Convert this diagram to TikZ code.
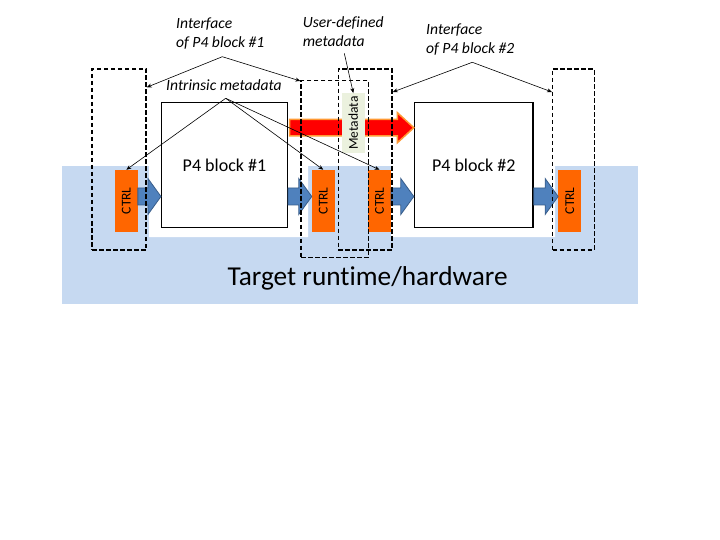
\documentclass[tikz,border=0pt]{standalone}
\usepackage{fontspec}
\setmainfont[Ligatures=NoCommon]{Carlito}
\usetikzlibrary{calc,arrows.meta}

\definecolor{bgblue}{HTML}{C6D9F1}
\definecolor{arrblue}{HTML}{4F81BD}
\definecolor{arrline}{HTML}{385D8A}
\definecolor{ctrlorange}{HTML}{FF6600}
\definecolor{mdgreen}{HTML}{EBF1DE}
\definecolor{glow}{HTML}{FF9933}

\newcommand\blockarrow[7][]{%
  \filldraw[#1] let \p1=(#2), \p2=(#3), \p3=(0,#4) in
    (\x1,{\y3+#5}) -- ({\x2-#7},{\y3+#5}) -- ({\x2-#7},{\y3+#6}) -- (\x2,\y3)
    -- ({\x2-#7},{\y3-#6}) -- ({\x2-#7},{\y3-#5}) -- (\x1,{\y3-#5}) -- cycle;}

\begin{document}
\begin{tikzpicture}[x=1pt,y=-1pt,
  blk/.style={draw,line width=1.5pt,fill=white,inner sep=0pt,minimum width=#1,
    minimum height=124.6pt,font=\fontsize{18}{20}\selectfont},
  ctrl/.style={fill=ctrlorange,inner sep=0pt,minimum width=22.7pt,minimum height=61.7pt,
    font=\fontsize{13.5}{15}\selectfont},
  iface/.style={draw,line width=1.4pt,dash pattern=on 4.5pt off 2.5pt,inner sep=0pt},
  note/.style={font=\fontsize{15.6}{19}\selectfont\itshape,align=left,inner sep=0pt},
  pointer/.style={line width=0.6pt,-{Stealth[length=5pt,width=4pt]}},
  bluearrow/.style={fill=arrblue,draw=arrline,line width=0.8pt},
  redarrow/.style={fill=red,draw=glow,line width=1.5pt}]
\useasboundingbox (0,0) rectangle (720,540);
\fill[bgblue] (62,166) rectangle (638,304);
\fill[white] (149,166) rectangle (308,237) (391,166) rectangle (555,237);
\node[blk=125.6pt] (blk1) at (224.5,165) {P4 block \#1};
\node[blk=118.5pt] (blk2) at (473.8,165) {P4 block \#2};
\blockarrow[redarrow]{[xshift=1.5pt]blk1.east}{blk2.west}{127.7}{8.3pt}{15pt}{16.4pt}
\node[fill=mdgreen,inner sep=0pt,minimum width=23.3pt,minimum height=59.4pt,
  font=\fontsize{13.5}{15}\selectfont] (md) at (353.3,123) {\rotatebox{90}{Metadata}};
\foreach \n/\x in {1/126.3,2/323.3,3/379.5,4/569.7}
  \node[ctrl] (c\n) at (\x,200.8) {\rotatebox{90}{CTRL}};
\blockarrow[bluearrow]{c1.east}{blk1.west}{196.5}{8.5pt}{18pt}{13pt}
\blockarrow[bluearrow]{blk1.east}{c2.west}{196.5}{8.5pt}{18pt}{13pt}
\blockarrow[bluearrow]{c3.east}{blk2.west}{196.5}{8.5pt}{18pt}{13pt}
\blockarrow[bluearrow]{blk2.east}{c4.west}{196.5}{8.5pt}{18pt}{13pt}
\foreach \n/\x/\y/\w/\h in {1a/119/159.5/54/181,1b/334.7/169/67.3/176.6,
    2a/365.2/159.5/53.7/181,2b/573.5/159.5/41.6/181}
  \node[iface,minimum width=\w pt,minimum height=\h pt] (if\n) at (\x,\y) {};
\node[note,anchor=west] (lif1) at (176,33.8) {Interface\\of P4 block \#1};
\node[note,anchor=west] (lusr) at (302.7,31.5) {User-defined\\metadata};
\node[note,anchor=west] (lif2) at (426,39.5) {Interface\\of P4 block \#2};
\node[note,anchor=base west] (lint) at (166,91) {Intrinsic metadata};
\node[font=\fontsize{27.3}{30}\selectfont,anchor=base] (tgt) at (367.7,285) {Target runtime/hardware};
\coordinate (a1) at (222.3,56.7);
\coordinate (a2) at (225.7,98.3);
\coordinate (a3) at (472.3,62.3);
\coordinate (a4) at (344.3,53.3);
\draw[pointer] (a1) -- ([yshift=-19pt]if1a.north east);
\draw[pointer] (a1) -- ([yshift=-1pt]if1b.north west);
\draw[pointer] (a3) -- ([yshift=-23.7pt]if2a.north east);
\draw[pointer] (a3) -- ([yshift=-23.7pt]if2b.north west);
\foreach \n in {1,2,3}
  \draw[pointer] (a2) -- (c\n.north);
\draw[pointer] (a4) -- (md.north);
\end{tikzpicture}
\end{document}
